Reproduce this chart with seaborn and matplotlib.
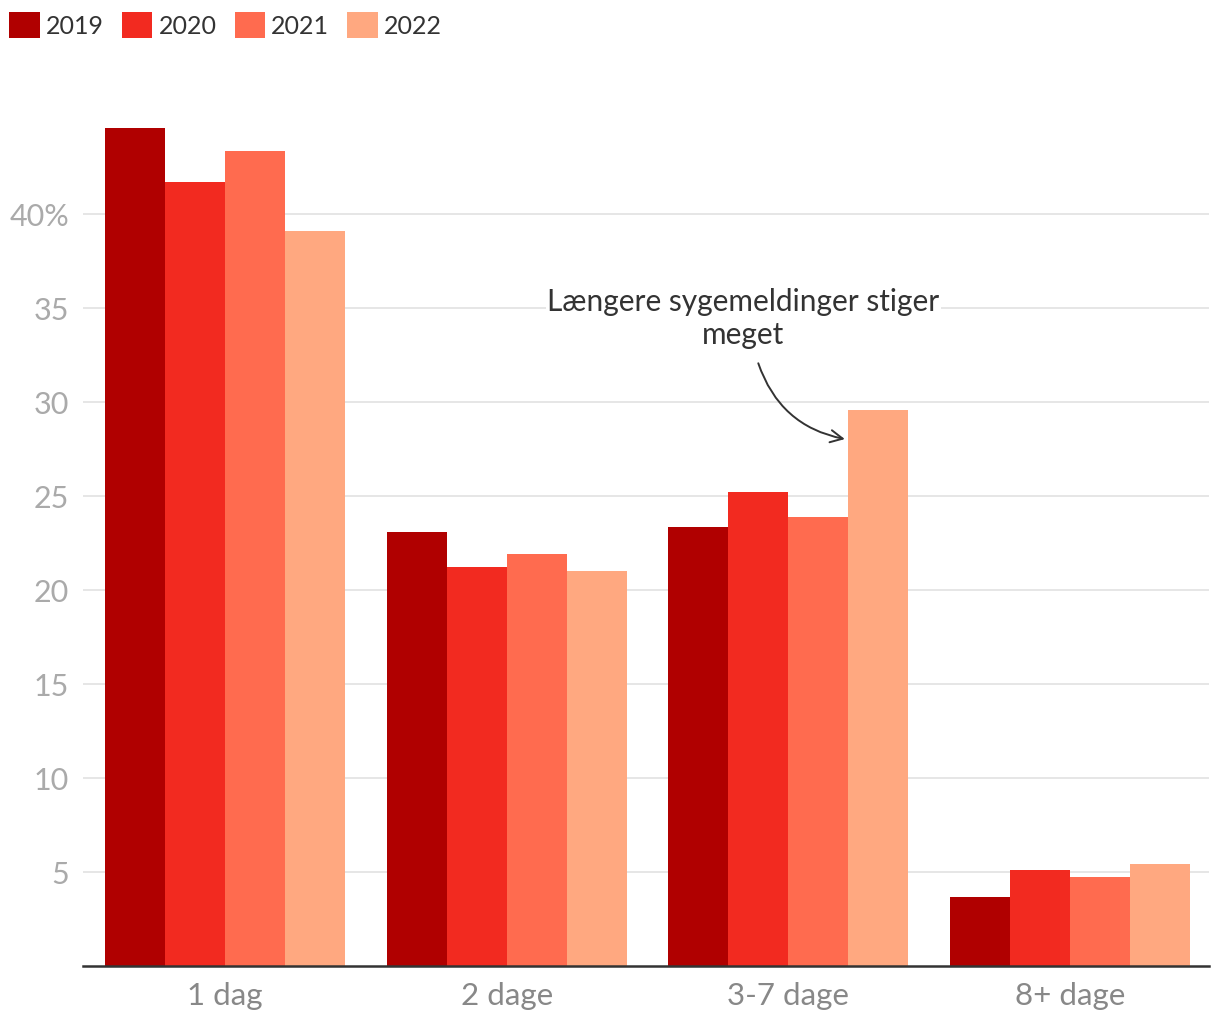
import matplotlib
matplotlib.use("Agg")
import matplotlib.pyplot as plt
import matplotlib.patches as mpatches
import seaborn as sns
import pandas as pd

categories = ["1 dag", "2 dage", "3-7 dage", "8+ dage"]
years = ["2019", "2020", "2021", "2022"]
v2019 = [44.6, 23.1, 23.35, 3.67]
v2020 = [41.7, 21.2, 25.2, 5.1]
v2021 = [43.35, 21.9, 23.9, 4.73]
v2022 = [39.1, 21.0, 29.6, 5.43]
colors = ["#b00000", "#f22a20", "#ff6b4f", "#ffa880"]
yticks = [5, 10, 15, 20, 25, 30, 35, 40]
ytick_labels = ["5", "10", "15", "20", "25", "30", "35", "40%"]
annotation_text = "Længere sygemeldinger stiger\nmeget"

rows = []
for yr, vals in zip(years, [v2019, v2020, v2021, v2022]):
    for c, v in zip(categories, vals):
        rows.append({"kategori": c, "år": yr, "værdi": v})
df = pd.DataFrame(rows)

sns.set_theme(style="white")
plt.rcParams["font.family"] = ["Lato", "DejaVu Sans"]

fig = plt.figure(figsize=(12.2, 10.2), dpi=100)
ax = fig.add_axes([83 / 1220, 53 / 1020, (1209 - 83) / 1220, 846 / 1020])

sns.barplot(data=df, x="kategori", y="værdi", hue="år", order=categories,
            hue_order=years, palette=colors, width=0.852, saturation=1,
            ax=ax, legend=False, linewidth=0, errorbar=None)

ax.set_xlim(-0.504, 3.493)
ax.set_ylim(0, 45)
ax.set_yticks(yticks)
ax.set_yticklabels(ytick_labels)
ax.set_xlabel("")
ax.set_ylabel("")
ax.yaxis.grid(True, color="#e4e4e4", linewidth=1.3)
ax.set_axisbelow(True)
for s in ["left", "right", "top"]:
    ax.spines[s].set_visible(False)
ax.spines["bottom"].set_color("#333333")
ax.spines["bottom"].set_linewidth(1.8)
ax.tick_params(axis="y", length=0, pad=10, labelsize=22, labelcolor="#aaaaaa")
ax.tick_params(axis="x", length=0, pad=11, labelsize=22.5, labelcolor="#888888")

ax.text(1.84, 34.5, annotation_text, ha="center", va="center", fontsize=21.5,
        color="#333333", linespacing=1.22,
        bbox=dict(facecolor="white", edgecolor="none", pad=1))
ax.annotate("", xy=(2.21, 28.0), xytext=(1.89, 32.2),
            arrowprops=dict(arrowstyle="->", color="#333333", lw=1.4,
                            connectionstyle="arc3,rad=0.3",
                            mutation_scale=22))

handles = [mpatches.Patch(facecolor=c, edgecolor="none", label=y)
           for c, y in zip(colors, years)]
fig.legend(handles=handles, loc="upper left",
           bbox_to_anchor=(9 / 1220, 1 - 13 / 1020),
           ncol=4, frameon=False, fontsize=18, handlelength=1.22,
           handleheight=1.22, handletextpad=0.25, columnspacing=0.72,
           borderaxespad=0, borderpad=0, labelcolor="#333333")

fig.savefig("out.png", dpi=100, facecolor="white")
